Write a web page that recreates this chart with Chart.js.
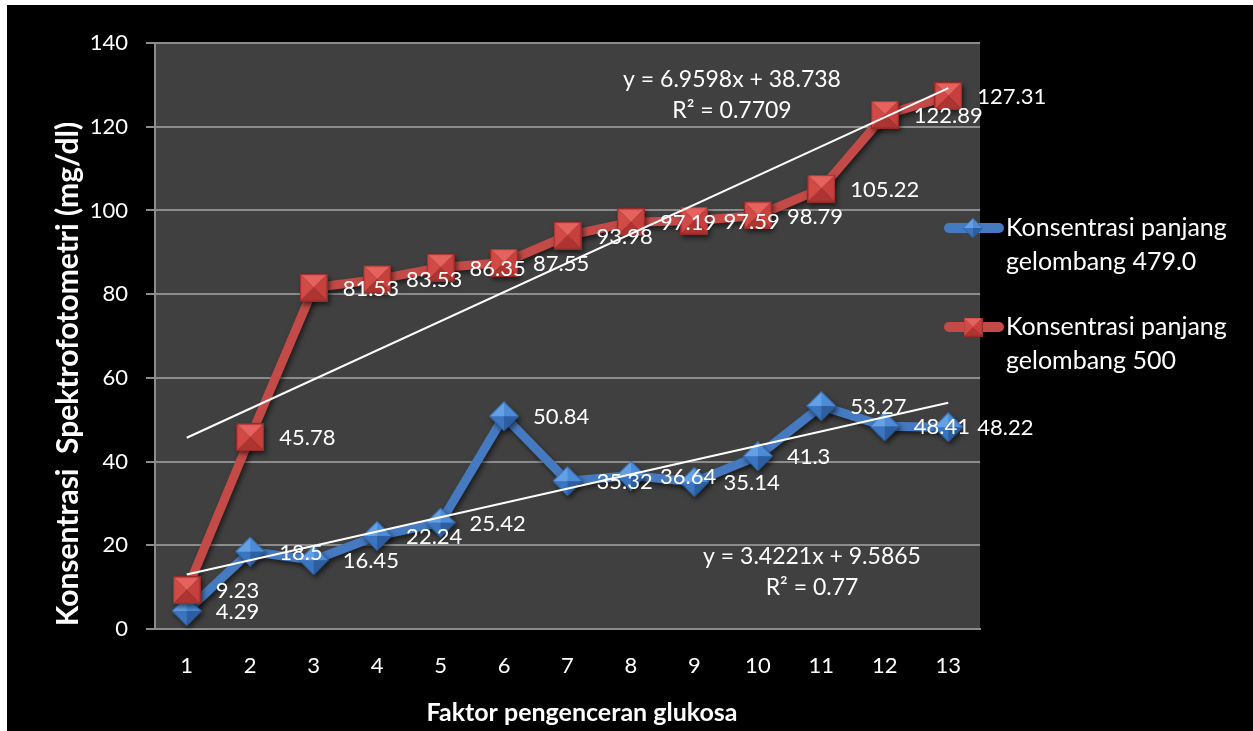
<!DOCTYPE html>
<html>
<head>
<meta charset="utf-8">
<script src="https://cdn.jsdelivr.net/npm/chart.js@4.4.1/dist/chart.umd.min.js"></script>
<style>
  html, body { margin: 0; padding: 0; background: #ffffff; }
  #wrap { position: absolute; left: 7px; top: 5px; width: 1246px; height: 726px; background: #000000; }
  canvas { display: block; }
</style>
</head>
<body>
<div id="wrap"><canvas id="chart" width="1246" height="726"></canvas></div>
<script>
// Dilution factors on the x axis
const categories = ['1', '2', '3', '4', '5', '6', '7', '8', '9', '10', '11', '12', '13'];

// Measured concentrations (mg/dl) at each wavelength
const values479 = [4.29, 18.5, 16.45, 22.24, 25.42, 50.84, 35.32, 36.64, 35.14, 41.3, 53.27, 48.41, 48.22];
const values500 = [9.23, 45.78, 81.53, 83.53, 86.35, 87.55, 93.98, 97.19, 97.59, 98.79, 105.22, 122.89, 127.31];

// Series names (two legend lines each)
const name479 = ['Konsentrasi panjang', 'gelombang 479.0'];
const name500 = ['Konsentrasi panjang', 'gelombang 500'];

// Linear trend lines: slope, intercept, R²
const trend479 = [3.4221, 9.5865, 0.77];
const trend500 = [6.9598, 38.738, 0.7709];

// Value axis ticks
const yTicks = [0, 20, 40, 60, 80, 100, 120, 140];

const axisTitleY = 'Konsentrasi  Spektrofotometri (mg/dl)';
const axisTitleX = 'Faktor pengenceran glukosa';

const FONT = "Lato, 'Liberation Sans', sans-serif";
const BLUE = '#4579c0';
const RED = '#c34a47';

// Bevelled marker images (pyramid shading)
function redSquare(size) {
  const c = document.createElement('canvas');
  c.width = c.height = size;
  const g = c.getContext('2d');
  const s = size, m = size / 2;
  const tri = (pts, col) => {
    g.beginPath(); g.moveTo(pts[0], pts[1]); g.lineTo(pts[2], pts[3]); g.lineTo(pts[4], pts[5]);
    g.closePath(); g.fillStyle = col; g.fill();
  };
  tri([0, 0, s, 0, m, m], '#e6625e');
  tri([0, 0, 0, s, m, m], '#d24a46');
  tri([s, 0, s, s, m, m], '#c7403d');
  tri([0, s, s, s, m, m], '#ad3431');
  g.strokeStyle = '#952b29'; g.lineWidth = 1.2;
  g.strokeRect(0.6, 0.6, s - 1.2, s - 1.2);
  return c;
}
function blueDiamond(size) {
  const c = document.createElement('canvas');
  c.width = c.height = size;
  const g = c.getContext('2d');
  const s = size, m = size / 2;
  const tri = (pts, col) => {
    g.beginPath(); g.moveTo(pts[0], pts[1]); g.lineTo(pts[2], pts[3]); g.lineTo(pts[4], pts[5]);
    g.closePath(); g.fillStyle = col; g.fill();
  };
  tri([0, m, m, 0, m, m], '#64a0e6');
  tri([m, 0, s, m, m, m], '#4d8bd6');
  tri([0, m, m, s, m, m], '#3b74bf');
  tri([s, m, m, s, m, m], '#2d5e9f');
  g.beginPath(); g.moveTo(m, 0.5); g.lineTo(s - 0.5, m); g.lineTo(m, s - 0.5); g.lineTo(0.5, m); g.closePath();
  g.strokeStyle = '#2b5b98'; g.lineWidth = 1; g.stroke();
  return c;
}

const markerRed = redSquare(28);
const markerBlue = blueDiamond(30);

// Trend line endpoints at the first and last category
function trendData(t) {
  const last = categories.length - 1;
  return categories.map((c, i) => (i === 0 || i === last) ? t[0] * Number(c) + t[1] : null);
}

const plotBackground = {
  id: 'plotBackground',
  beforeDraw(chart) {
    const { ctx, chartArea: a } = chart;
    ctx.save();
    ctx.fillStyle = '#000000';
    ctx.fillRect(0, 0, chart.width, chart.height);
    ctx.fillStyle = '#404040';
    ctx.fillRect(a.left, a.top, a.right - a.left, a.bottom - a.top);
    ctx.restore();
  }
};

const seriesShadow = {
  id: 'seriesShadow',
  beforeDatasetDraw(chart, args) {
    if (args.index > 1) return;
    const ctx = chart.ctx;
    ctx.save();
    ctx.shadowColor = 'rgba(0,0,0,0.55)';
    ctx.shadowBlur = 5;
    ctx.shadowOffsetX = 2;
    ctx.shadowOffsetY = 3;
  },
  afterDatasetDraw(chart, args) {
    if (args.index > 1) return;
    chart.ctx.restore();
  }
};

const valueLabels = {
  id: 'valueLabels',
  afterDatasetsDraw(chart) {
    const ctx = chart.ctx;
    ctx.save();
    ctx.font = '22px ' + FONT;
    ctx.fillStyle = '#ffffff';
    ctx.textAlign = 'left';
    ctx.textBaseline = 'middle';
    [0, 1].forEach(di => {
      const ds = chart.data.datasets[di];
      chart.getDatasetMeta(di).data.forEach((pt, j) => {
        ctx.fillText(String(ds.data[j]), pt.x + 29, pt.y + 1);
      });
    });
    ctx.restore();
  }
};

const annotations = {
  id: 'annotations',
  afterDraw(chart) {
    const ctx = chart.ctx;
    ctx.save();
    ctx.fillStyle = '#ffffff';
    ctx.textBaseline = 'middle';

    // trend equations
    ctx.font = '23px ' + FONT;
    ctx.textAlign = 'center';
    ctx.fillText('y = ' + trend500[0] + 'x + ' + trend500[1], 725, 75);
    ctx.fillText('R² = ' + trend500[2], 725, 106);
    ctx.fillText('y = ' + trend479[0] + 'x + ' + trend479[1], 805, 552);
    ctx.fillText('R² = ' + trend479[2], 805, 583);

    // axis titles
    ctx.font = 'bold 25px ' + FONT;
    ctx.fillText(axisTitleX, 575, 708);
    ctx.save();
    ctx.translate(61, 369);
    ctx.rotate(-Math.PI / 2);
    ctx.font = 'bold 30px ' + FONT;
    ctx.fillText(axisTitleY, 0, 0);
    ctx.restore();

    // legend
    const entries = [
      { ds: chart.data.datasets[0], img: markerBlue, y: 223, size: 20 },
      { ds: chart.data.datasets[1], img: markerRed, y: 322, size: 19 }
    ];
    entries.forEach(e => {
      ctx.save();
      ctx.strokeStyle = e.ds.borderColor;
      ctx.lineWidth = 10;
      ctx.lineCap = 'round';
      ctx.beginPath(); ctx.moveTo(942, e.y); ctx.lineTo(992, e.y); ctx.stroke();
      ctx.drawImage(e.img, 966 - e.size / 2, e.y - e.size / 2, e.size, e.size);
      ctx.restore();
      ctx.font = '25px ' + FONT;
      ctx.textAlign = 'left';
      e.ds.legendLines.forEach((t, k) => ctx.fillText(t, 999, e.y + k * 34));
    });
    ctx.restore();
  }
};

Chart.defaults.font.family = FONT;

new Chart(document.getElementById('chart'), {
  type: 'line',
  data: {
    labels: categories,
    datasets: [
      {
        label: name479.join(' '), legendLines: name479, data: values479,
        borderColor: BLUE, backgroundColor: BLUE, borderWidth: 9,
        pointStyle: markerBlue, pointRadius: 15, tension: 0, order: 2
      },
      {
        label: name500.join(' '), legendLines: name500, data: values500,
        borderColor: RED, backgroundColor: RED, borderWidth: 9,
        pointStyle: markerRed, pointRadius: 14, tension: 0, order: 1
      },
      {
        label: 'Linear (479.0)', data: trendData(trend479), spanGaps: true,
        borderColor: '#ffffff', borderWidth: 2, pointRadius: 0, order: 0
      },
      {
        label: 'Linear (500)', data: trendData(trend500), spanGaps: true,
        borderColor: '#ffffff', borderWidth: 2, pointRadius: 0, order: 0
      }
    ]
  },
  options: {
    responsive: false,
    animation: false,
    devicePixelRatio: 1,
    layout: { padding: { top: 38, right: 273, bottom: 0, left: 0 } },
    plugins: { legend: { display: false }, tooltip: { enabled: false } },
    scales: {
      x: {
        type: 'category', offset: true,
        grid: { display: false },
        border: { display: true, color: '#8c8c8c', width: 2 },
        ticks: { color: '#ffffff', font: { size: 22 }, padding: 16, maxRotation: 0 },
        afterFit(s) { s.height = 102; }
      },
      y: {
        min: yTicks[0], max: yTicks[yTicks.length - 1],
        afterBuildTicks(s) { s.ticks = yTicks.map(v => ({ value: v })); },
        grid: { color: '#8c8c8c', lineWidth: 2, drawTicks: true, tickLength: 9 },
        border: { display: true, color: '#8c8c8c', width: 2 },
        ticks: { color: '#ffffff', font: { size: 22 }, padding: 18 },
        afterFit(s) { s.width = 148; }
      }
    }
  },
  plugins: [plotBackground, seriesShadow, valueLabels, annotations]
});
</script>
</body>
</html>
